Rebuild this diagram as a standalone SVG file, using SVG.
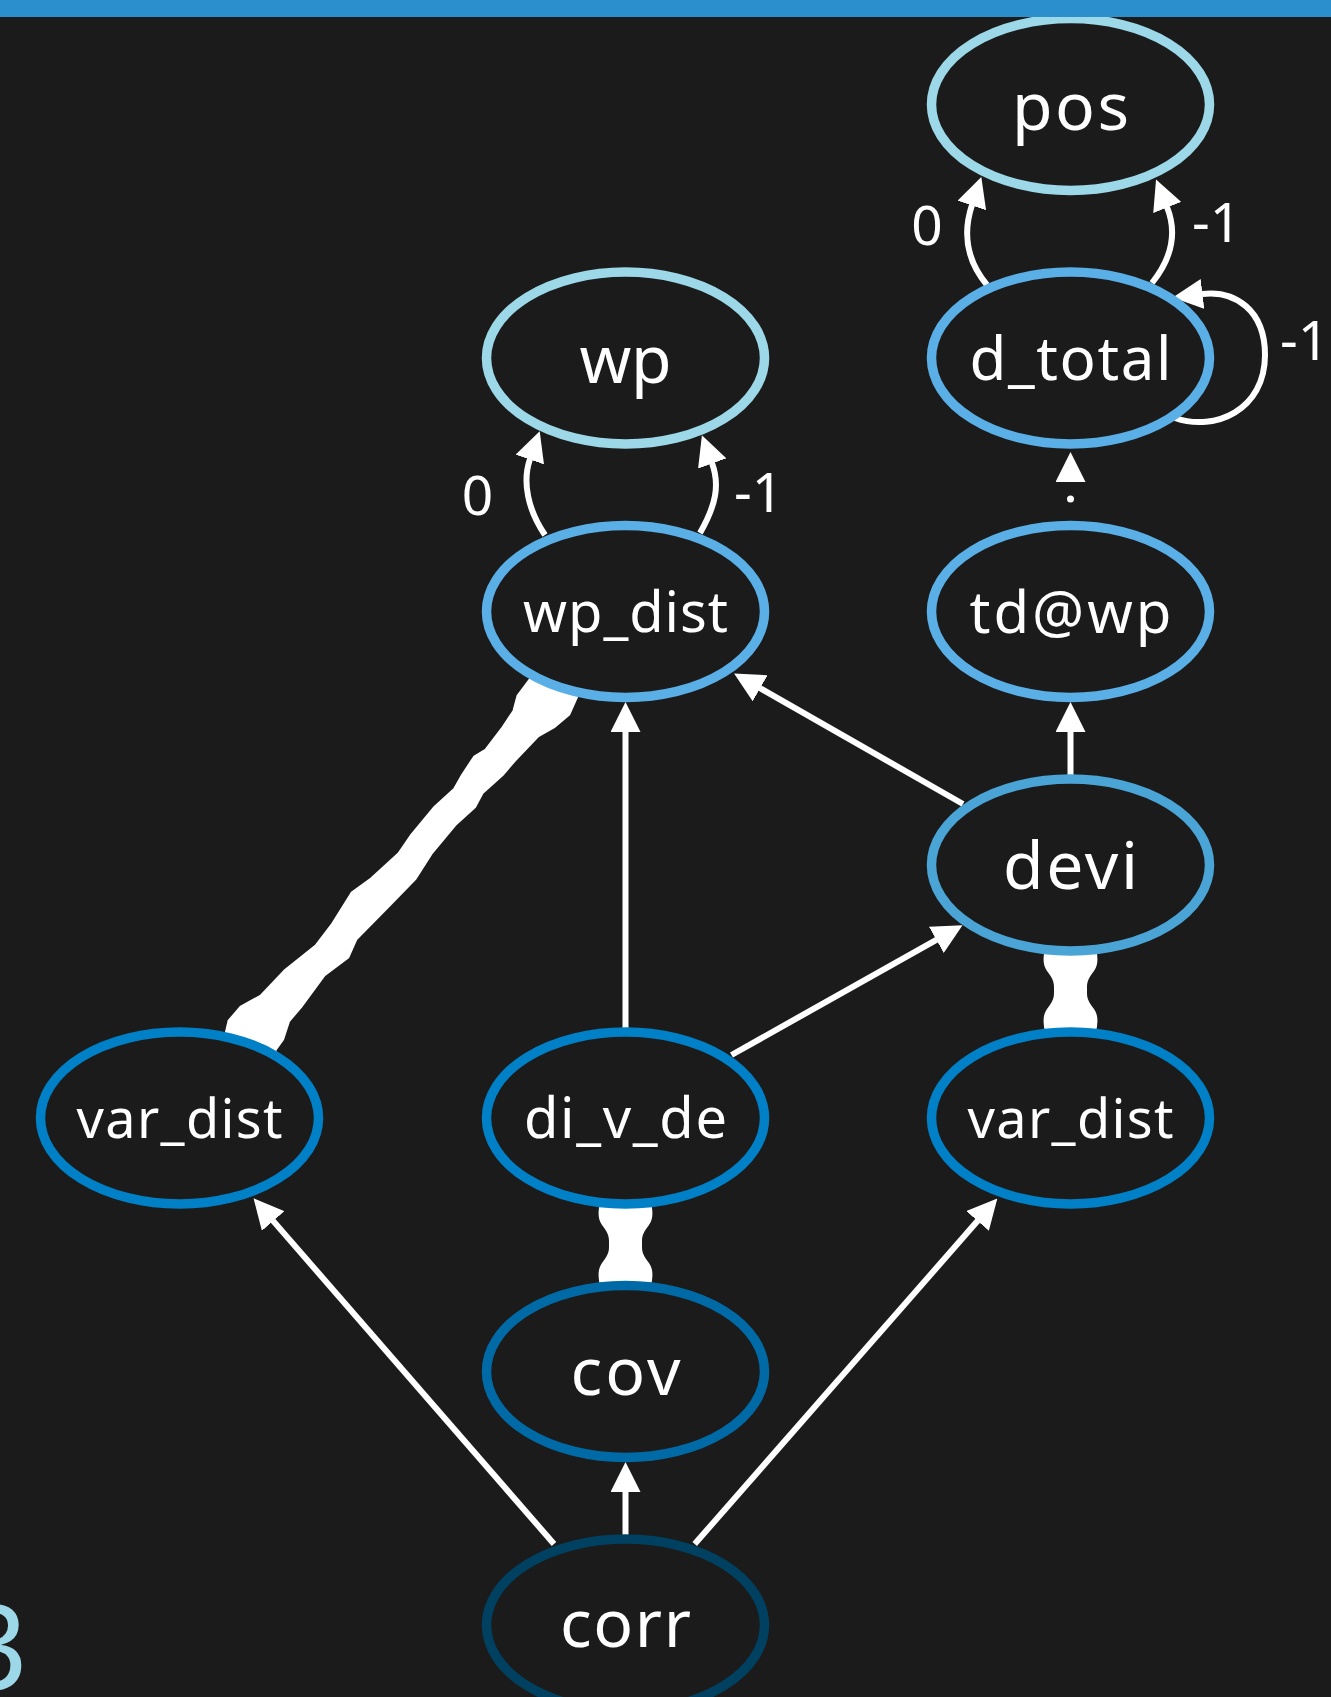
<svg xmlns="http://www.w3.org/2000/svg" width="1331" height="1697" viewBox="0 0 1331 1697">
<style>
.bg{fill:#1b1b1b}
.n{fill:#1b1b1b;stroke-width:9.5}
.c1{stroke:#9cd8e8}
.c2{stroke:#5aafe6}
.c3{stroke:#4aa4d6}
.c4{stroke:#0080c6}
.c5{stroke:#006aa6}
.c6{stroke:#004060}
.t{fill:#ffffff;font-family:"Noto Sans","Open Sans","DejaVu Sans",sans-serif;text-anchor:middle}
.e{fill:none;stroke:#ffffff;stroke-width:6}
.el{fill:#ffffff;font-family:"Noto Sans","Open Sans","DejaVu Sans",sans-serif;font-size:55px}
.dot{fill:none;stroke:#ffffff;stroke-width:7;stroke-linecap:round;stroke-dasharray:0 18.5}
.bone{fill:#ffffff}
</style>
<defs>
<marker id="ah" viewBox="0 0 30 30" markerWidth="30" markerHeight="30" refX="0.5" refY="15" orient="auto" markerUnits="userSpaceOnUse">
<path d="M0,0 L30,15 L0,30 z" fill="#ffffff"/>
</marker>
<path id="bonev" d="M -26,-40 L 26,-40 C 27.5,-30 27.5,-25 23.5,-19 C 18,-12 16.5,-8 16.5,-3 L 16.5,3 C 16.5,8 18,12 23.5,19 C 27.5,25 27.5,30 26,40 L -26,40 C -27.5,30 -27.5,25 -23.5,19 C -18,12 -16.5,8 -16.5,3 L -16.5,-3 C -16.5,-8 -18,-12 -23.5,-19 C -27.5,-25 -27.5,-30 -26,-40 Z"/>
</defs>
<rect class="bg" x="0" y="0" width="1331" height="1697"/>

<g id="connectors">
<path class="e" d="M 545 535 C 528 510, 522 482, 530 459" marker-end="url(#ah)"/>
<path class="e" d="M 700 533 C 716 505, 720 485, 712 463" marker-end="url(#ah)"/>
<path class="e" d="M 987 285 C 968 262, 962 235, 972 205" marker-end="url(#ah)"/>
<path class="e" d="M 1152 283 C 1172 258, 1177 232, 1167 207" marker-end="url(#ah)"/>
<path class="e" d="M 1175 418 C 1215 432, 1265 410, 1265 355 C 1265 310, 1235 290, 1202 294" marker-end="url(#ah)"/>
<path class="dot" d="M 1070.5 499 L 1070.5 480.5"/>
<path class="e" d="M 1070.5 482 L 1070.5 481.5" marker-end="url(#ah)" style="stroke-width:0.1"/>
<path class="e" d="M 1070.5 775 L 1070.5 731.5" marker-end="url(#ah)"/>
<path class="e" d="M 963 804 L 759.7 688" marker-end="url(#ah)"/>
<path class="e" d="M 625.5 1028 L 625.5 731.5" marker-end="url(#ah)"/>
<path class="e" d="M 731.5 1055 L 936.8 939.6" marker-end="url(#ah)"/>
<path class="e" d="M 625.5 1535 L 625.5 1491.5" marker-end="url(#ah)"/>
<path class="e" d="M 554 1544 L 272.9 1220.6" marker-end="url(#ah)"/>
<path class="e" d="M 694.7 1544 L 977.9 1220.6" marker-end="url(#ah)"/>
<use href="#bonev" class="bone" transform="translate(1070.5,990)"/>
<use href="#bonev" class="bone" transform="translate(625.5,1244)"/>
<path class="bone" stroke="#ffffff" stroke-width="3" stroke-linejoin="round" d="M 535,672 L 530,680 L 518,696 L 514,711 L 502,729 L 486,750 L 474.5,757 L 462.6,775 L 454.7,789 L 435,807 L 411,836 L 399,853.6 L 371.7,878.6 L 352,893 L 332,925 L 316,946 L 284.7,971 L 261,996 L 241,1007 L 229,1021 L 226,1034 L 226,1045 L 276,1055 L 274.8,1050 L 282.7,1039 L 288.6,1021 L 300.5,1007 L 324,975 L 348,957 L 356,939 L 387.5,907 L 415,878.6 L 431,853.6 L 454.7,825 L 474.5,807 L 482,793 L 502,775 L 514,761 L 537.8,736 L 553.6,727 L 569,714 L 577,696 L 580,685 Z"/>
</g>

<g id="edge-labels">
<text class="el" x="927" y="245" text-anchor="middle">0</text>
<text class="el" x="1192" y="242">-1</text>
<text class="el" x="1280" y="360">-1</text>
<text class="el" x="477.5" y="515" text-anchor="middle">0</text>
<text class="el" x="734" y="512">-1</text>
</g>

<g id="node-pos"><ellipse class="n c1" cx="1070.5" cy="104.5" rx="139" ry="86"/><text class="t" x="1070.5" y="130" font-size="66" textLength="117">pos</text></g>
<g id="node-wp"><ellipse class="n c1" cx="625.5" cy="358" rx="139" ry="86"/><text class="t" x="625.5" y="383" font-size="66" textLength="92">wp</text></g>
<g id="node-d_total"><ellipse class="n c2" cx="1070.5" cy="358" rx="139" ry="86"/><text class="t" x="1070.5" y="380" font-size="60" textLength="202">d_total</text></g>
<g id="node-wp_dist"><ellipse class="n c2" cx="625.5" cy="611.5" rx="139" ry="86"/><text class="t" x="625.5" y="632" font-size="56" textLength="205">wp_dist</text></g>
<g id="node-td_wp"><ellipse class="n c2" cx="1070.5" cy="611.5" rx="139" ry="86"/><text class="t" x="1070.5" y="633" font-size="58" textLength="202">td@wp</text></g>
<g id="node-devi"><ellipse class="n c3" cx="1070.5" cy="865" rx="139" ry="86"/><text class="t" x="1070.5" y="889" font-size="66" textLength="135">devi</text></g>
<g id="node-var_dist_l"><ellipse class="n c4" cx="179.5" cy="1118" rx="139" ry="86"/><text class="t" x="179.5" y="1138" font-size="54" textLength="206">var_dist</text></g>
<g id="node-di_v_de"><ellipse class="n c4" cx="625.5" cy="1118" rx="139" ry="86"/><text class="t" x="625.5" y="1138" font-size="56" textLength="203">di_v_de</text></g>
<g id="node-var_dist_r"><ellipse class="n c4" cx="1070.5" cy="1118" rx="139" ry="86"/><text class="t" x="1070.5" y="1138" font-size="54" textLength="206">var_dist</text></g>
<g id="node-cov"><ellipse class="n c5" cx="625.5" cy="1371.5" rx="139" ry="86"/><text class="t" x="625.5" y="1395" font-size="66" textLength="110">cov</text></g>
<g id="node-corr"><ellipse class="n c6" cx="625.5" cy="1625" rx="139" ry="86"/><text class="t" x="625.5" y="1647" font-size="66" textLength="131">corr</text></g>

<rect x="0" y="0" width="1331" height="17" fill="#2b8fce"/>
<text x="28" y="1690" font-family="Noto Sans, Open Sans, sans-serif" font-size="118" fill="#9cd8e8" text-anchor="end">3</text>
</svg>
